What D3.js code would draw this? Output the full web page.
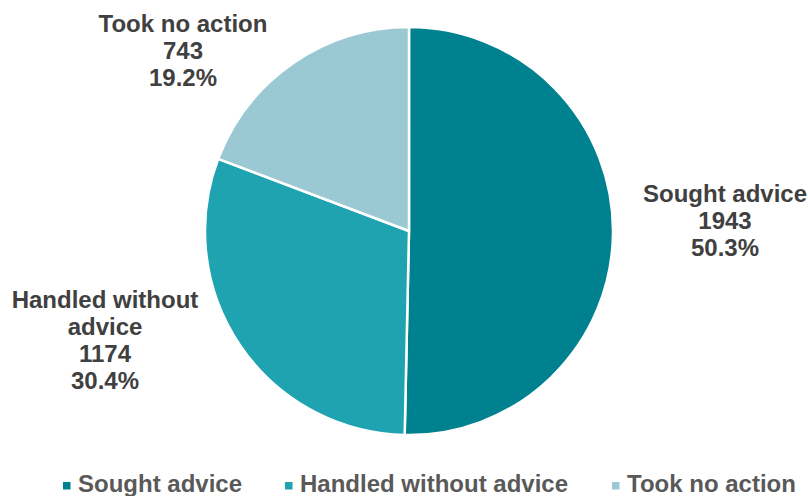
<!DOCTYPE html>
<html>
<head>
<meta charset="utf-8">
<script src="https://cdn.jsdelivr.net/npm/d3@7"></script>
<style>
  html, body { margin: 0; padding: 0; background: #fff; }
  svg { display: block; font-family: "Liberation Sans", Arial, sans-serif; }
</style>
</head>
<body>
<svg id="chart" width="808" height="496"></svg>
<script>
// Responses to a problem: how people dealt with it
const categories = ["Sought advice", "Handled without advice", "Took no action"];
const counts = [1943, 1174, 743];
const colors = ["#00818F", "#1FA3B0", "#9BC9D3"];
// label lines as printed next to each slice (name may wrap)
const labelNames = [["Sought advice"], ["Handled without", "advice"], ["Took no action"]];

const total = d3.sum(counts);
const data = categories.map((c, i) => ({ name: c, value: counts[i], color: colors[i], lines: labelNames[i] }));

const svg = d3.select("#chart");
const cx = 409, cy = 231, radius = 204;

const pie = d3.pie().value(d => d.value).sort(null).startAngle(0).endAngle(2 * Math.PI);
const arc = d3.arc().innerRadius(0).outerRadius(radius);
const arcs = pie(data);

const g = svg.append("g").attr("transform", `translate(${cx},${cy})`);

g.selectAll("path.slice")
  .data(arcs)
  .join("path")
  .attr("class", "slice")
  .attr("d", arc)
  .attr("fill", d => d.data.color)
  .attr("stroke", "#fff")
  .attr("stroke-width", 2.5)
  .attr("stroke-linejoin", "round");

// label block placement (centre x, first baseline y), relative to pie centre
const labelAnchor = {
  "Sought advice": [316, -29],
  "Handled without advice": [-304, 77],
  "Took no action": [-226, -199]
};
const lineH = 27;
const fmtPct = v => (v / total * 100).toFixed(1) + "%";

arcs.forEach(a => {
  const [lx, ly] = labelAnchor[a.data.name];
  const lines = [...a.data.lines, String(a.data.value), fmtPct(a.data.value)];
  const t = g.append("text")
    .attr("x", lx).attr("y", ly)
    .attr("text-anchor", "middle")
    .attr("fill", "#404040")
    .attr("font-size", 24)
    .attr("font-weight", "bold");
  lines.forEach((s, i) => {
    t.append("tspan").attr("x", lx).attr("y", ly + i * lineH).text(s);
  });
});

// legend
const legendX = [63, 285, 612];
const legend = svg.append("g").attr("class", "legend");
data.forEach((d, i) => {
  const lg = legend.append("g").attr("transform", `translate(${legendX[i]},0)`);
  lg.append("rect").attr("x", 0).attr("y", 482).attr("width", 7.5).attr("height", 7.5).attr("fill", d.color);
  lg.append("text")
    .attr("x", 15).attr("y", 492)
    .attr("fill", "#595959")
    .attr("font-size", 24)
    .attr("font-weight", "bold")
    .text(d.name);
});
</script>
</body>
</html>
